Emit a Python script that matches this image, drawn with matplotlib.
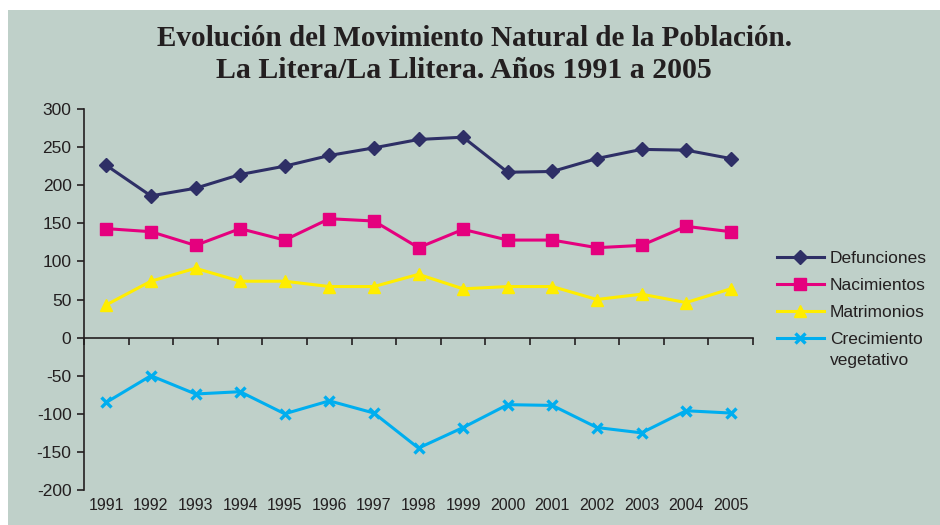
import matplotlib
matplotlib.use("Agg")
import matplotlib.pyplot as plt
from matplotlib.patches import Rectangle

years = ["1991", "1992", "1993", "1994", "1995", "1996", "1997", "1998",
         "1999", "2000", "2001", "2002", "2003", "2004", "2005"]
defunciones = [226, 186, 196, 214, 225, 239, 249, 260, 263, 217, 218, 235, 247, 246, 235]
nacimientos = [143, 139, 121, 143, 128, 156, 153, 118, 142, 128, 128, 118, 121, 146, 139]
matrimonios = [43, 74, 91, 74, 74, 67, 67, 83, 64, 67, 67, 50, 57, 46, 64]
crecimiento = [-85, -50, -74, -71, -100, -83, -99, -145, -118, -88, -89, -118, -125, -96, -99]
yticks = [300, 250, 200, 150, 100, 50, 0, -50, -100, -150, -200]

BG = "#BFD0C9"
TXT = "#231F20"
sans = ["Liberation Sans Narrow", "Liberation Sans", "DejaVu Sans"]
serif = ["Liberation Serif", "DejaVu Serif"]

fig = plt.figure(figsize=(9.4, 5.25), dpi=100, facecolor="white")
fig.patches.append(Rectangle((8 / 940, 0), 1 - 8 / 940, 1 - 10 / 525,
                             transform=fig.transFigure, facecolor=BG,
                             edgecolor="none", zorder=-10))

ax = fig.add_axes([84 / 940, 35 / 525, 669 / 940, 381 / 525])
ax.set_facecolor("none")

x = list(range(len(years)))
ax.plot(x, defunciones, color="#2E2F66", lw=2.2, marker="D", ms=7, label="Defunciones")
ax.plot(x, nacimientos, color="#E5007E", lw=2.2, marker="s", ms=8, label="Nacimientos")
ax.plot(x, matrimonios, color="#FFED00", lw=2.2, marker="^", ms=9, label="Matrimonios")
ax.plot(x, crecimiento, color="#00AEEF", lw=2.2, marker="x", ms=6.5, mew=2.4,
        label="Crecimiento")

ax.set_xlim(-0.5, len(years) - 0.5)
ax.set_ylim(-200, 300)
ax.set_yticks(yticks)
ax.set_yticklabels([str(v) for v in yticks], family=sans, fontsize=12.5, color=TXT)

for s in ["top", "right"]:
    ax.spines[s].set_visible(False)
ax.spines["left"].set_color(TXT)
ax.spines["left"].set_linewidth(1.2)
ax.spines["bottom"].set_position(("data", 0))
ax.spines["bottom"].set_color(TXT)
ax.spines["bottom"].set_linewidth(1.2)
ax.set_xticks([i + 0.5 for i in range(-1, len(years))])
ax.set_xticklabels([])
ax.tick_params(axis="x", direction="out", length=5, width=1.2, color=TXT)
ax.tick_params(axis="y", direction="out", length=5, width=1.2, color=TXT, pad=4)

sec = ax.secondary_xaxis("bottom")
sec.spines["bottom"].set_visible(False)
sec.set_xticks(x)
sec.set_xticklabels(years, family=sans, fontsize=11.5, color=TXT)
sec.tick_params(length=0, pad=6)

leg = ax.legend(loc="upper left", bbox_to_anchor=(777 / 940, 1 - 251 / 525),
                bbox_transform=fig.transFigure, frameon=False,
                prop={"family": sans, "size": 12.5}, handlelength=2.7,
                handletextpad=0.35, labelspacing=0.68, borderaxespad=0, borderpad=0)
for t in leg.get_texts():
    t.set_color(TXT)

fig.text(0.505, 1 - 38 / 525, "Evolución del Movimiento Natural de la Población.",
         ha="center", va="center", family=serif, weight="bold", fontsize=21, color=TXT)
fig.text(0.494, 1 - 71 / 525, "La Litera/La Llitera. Años 1991 a 2005",
         ha="center", va="center", family=serif, weight="bold", fontsize=21.5, color=TXT)

fig.canvas.draw()
last = leg.get_texts()[-1]
bb = last.get_window_extent(renderer=fig.canvas.get_renderer())
fx, fy = fig.transFigure.inverted().transform((bb.x0, bb.y0))
fig.text(fx, fy - 6 / 525, "vegetativo", ha="left", va="top", family=sans,
         fontsize=12.5, color=TXT)

fig.savefig("out.png", dpi=100, facecolor="white")
